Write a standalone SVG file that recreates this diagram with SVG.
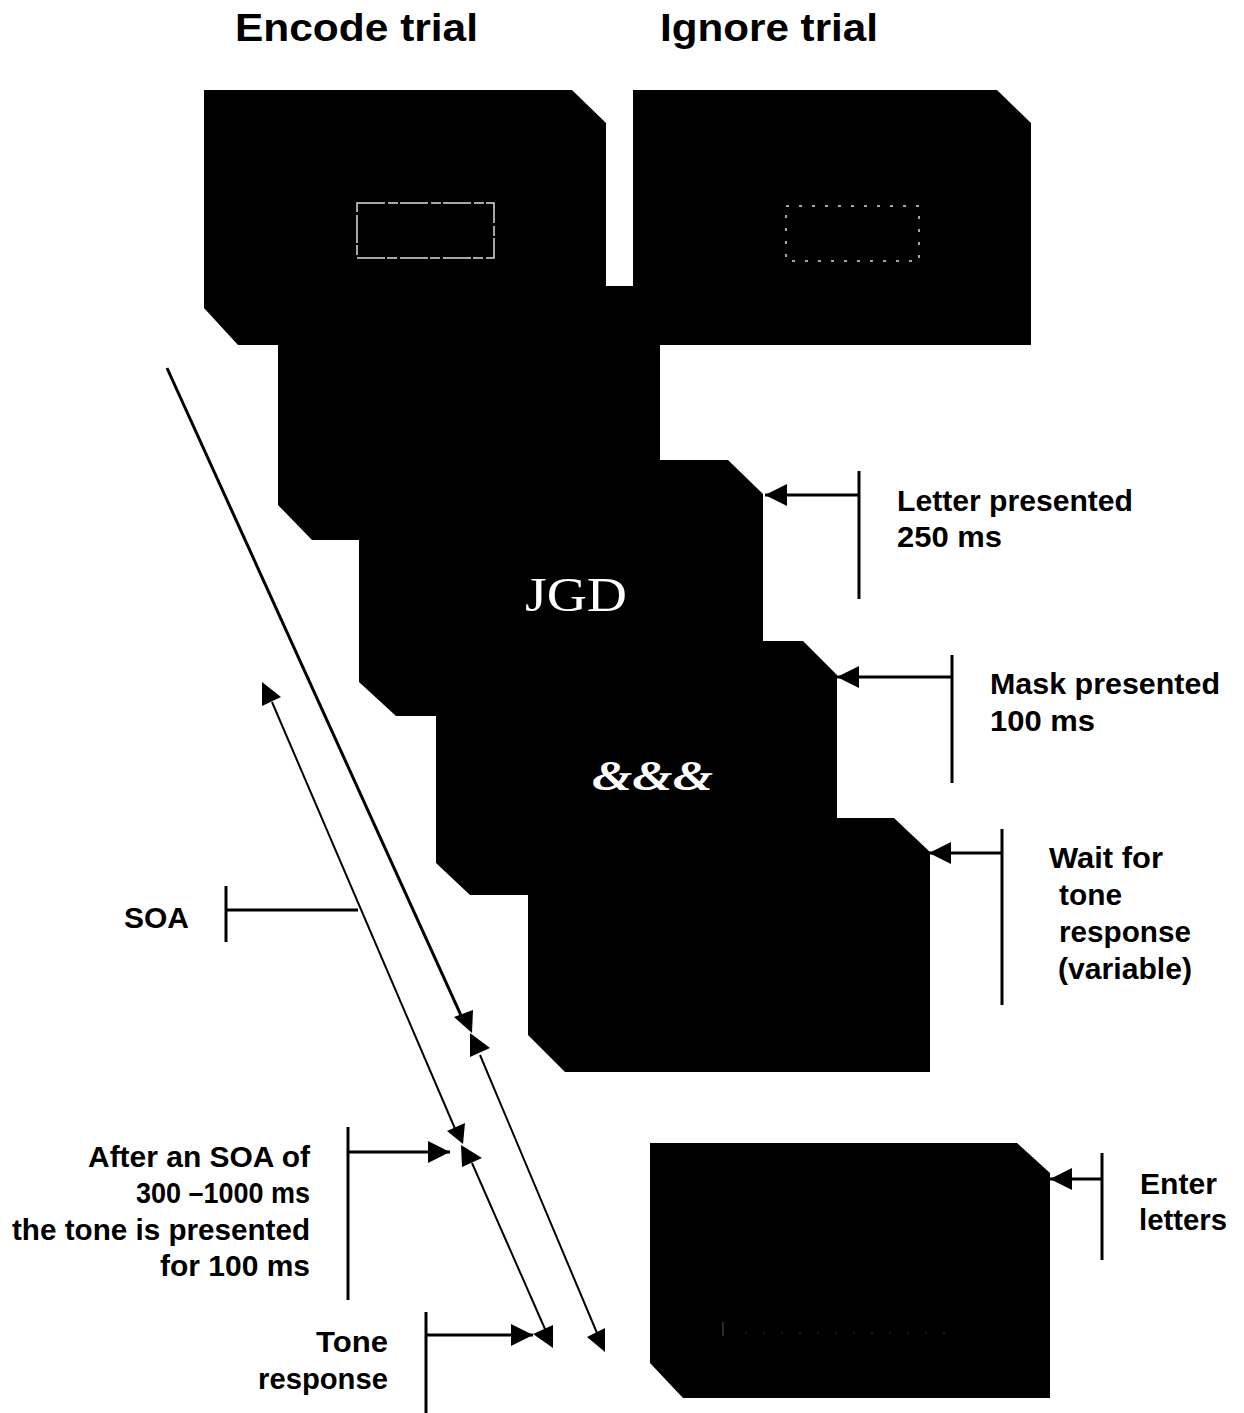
<svg xmlns="http://www.w3.org/2000/svg" width="1244" height="1413" viewBox="0 0 1244 1413">
<defs>
<style>
.box{fill:#000;stroke:none}
.lbl{font-family:"Liberation Sans",Arial,sans-serif;font-weight:bold;font-size:29px;fill:#000}
.title{font-family:"Liberation Sans",Arial,sans-serif;font-weight:bold;font-size:39px;fill:#000}
.br{stroke:#000;stroke-width:3;fill:none}
.ln{stroke:#000;fill:none}
.ah{fill:#000;stroke:none}
</style>
<marker id="arr" viewBox="0 0 22 22" refX="22" refY="11" markerWidth="22" markerHeight="22" markerUnits="userSpaceOnUse" orient="auto">
<path d="M0,0 L22,11 L0,22 Z" fill="#000"/>
</marker>
</defs>
<rect width="1244" height="1413" fill="#fff"/>

<text class="title" x="235" y="41" textLength="243" lengthAdjust="spacingAndGlyphs">Encode trial</text>
<text class="title" x="660" y="41" textLength="218" lengthAdjust="spacingAndGlyphs">Ignore trial</text>

<g id="screen-fixation">
<polygon class="box" points="278,286 660,286 660,540 312,540 278,505"/>
</g>
<g id="screen-letters">
<polygon class="box" points="359,460 728,460 763,494 763,716 396,716 359,682"/>
<text x="525" y="611" font-family="'Liberation Serif','Times New Roman',serif" font-size="48" fill="#fff" textLength="102" lengthAdjust="spacingAndGlyphs">JGD</text>
</g>
<g id="screen-mask">
<polygon class="box" points="436,641 803,641 837,675 837,895 470,895 436,863"/>
<text x="592" y="790" font-family="'Liberation Serif','Times New Roman',serif" font-size="42" font-weight="bold" font-style="italic" fill="#fff" textLength="121" lengthAdjust="spacingAndGlyphs">&amp;&amp;&amp;</text>
</g>
<g id="screen-wait">
<polygon class="box" points="528,818 894,818 930,852 930,1072 565,1072 528,1035"/>
</g>
<g id="encode-cue">
<polygon class="box" points="204,90 572,90 606,123 606,345 238,345 204,308"/>
<rect x="357" y="203" width="137" height="55" fill="none" stroke="#ddd" stroke-width="1.5" stroke-dasharray="28 3 10 2"/>
</g>
<g id="ignore-cue">
<polygon class="box" points="633,90 997,90 1031,123 1031,345 633,345"/>
<rect x="786" y="206" width="133" height="55" fill="none" stroke="#ddd" stroke-width="1.5" stroke-dasharray="3 10"/>
</g>
<g id="screen-enter">
<polygon class="box" points="650,1143 1017,1143 1050,1173 1050,1398 683,1398 650,1363"/>
<line x1="723" y1="1322" x2="723" y2="1336" stroke="#555" stroke-width="1"/>
<line x1="745" y1="1333" x2="945" y2="1333" stroke="#333" stroke-width="1" stroke-dasharray="2 16"/>
</g>

<g id="labels">
<text class="lbl" x="897" y="511" textLength="236" lengthAdjust="spacingAndGlyphs">Letter presented</text>
<text class="lbl" x="897" y="547" textLength="105" lengthAdjust="spacingAndGlyphs">250 ms</text>
<text class="lbl" x="990" y="694" textLength="230" lengthAdjust="spacingAndGlyphs">Mask presented</text>
<text class="lbl" x="990" y="731" textLength="105" lengthAdjust="spacingAndGlyphs">100 ms</text>
<text class="lbl" x="1049" y="868" textLength="114" lengthAdjust="spacingAndGlyphs">Wait for</text>
<text class="lbl" x="1059" y="905" textLength="63" lengthAdjust="spacingAndGlyphs">tone</text>
<text class="lbl" x="1059" y="942" textLength="132" lengthAdjust="spacingAndGlyphs">response</text>
<text class="lbl" x="1058" y="979" textLength="134" lengthAdjust="spacingAndGlyphs">(variable)</text>
<text class="lbl" x="1140" y="1194" textLength="77" lengthAdjust="spacingAndGlyphs">Enter</text>
<text class="lbl" x="1139" y="1230" textLength="88" lengthAdjust="spacingAndGlyphs">letters</text>
<text class="lbl" x="124" y="928" textLength="65" lengthAdjust="spacingAndGlyphs">SOA</text>
<text class="lbl" x="310" y="1167" text-anchor="end" textLength="222" lengthAdjust="spacingAndGlyphs">After an SOA of</text>
<text class="lbl" x="310" y="1203" text-anchor="end" textLength="174" lengthAdjust="spacingAndGlyphs">300 –1000 ms</text>
<text class="lbl" x="310" y="1240" text-anchor="end" textLength="298" lengthAdjust="spacingAndGlyphs">the tone is presented</text>
<text class="lbl" x="310" y="1276" text-anchor="end" textLength="150" lengthAdjust="spacingAndGlyphs">for 100 ms</text>
<text class="lbl" x="388" y="1352" text-anchor="end" textLength="72" lengthAdjust="spacingAndGlyphs">Tone</text>
<text class="lbl" x="388" y="1389" text-anchor="end" textLength="130" lengthAdjust="spacingAndGlyphs">response</text>
</g>

<g id="connectors">
<line class="br" x1="859" y1="471" x2="859" y2="599"/>
<line class="br" x1="859" y1="495" x2="765" y2="495" marker-end="url(#arr)"/>
<line class="br" x1="952" y1="655" x2="952" y2="783"/>
<line class="br" x1="952" y1="677" x2="837" y2="677" marker-end="url(#arr)"/>
<line class="br" x1="1002" y1="829" x2="1002" y2="1005"/>
<line class="br" x1="1002" y1="853" x2="929" y2="853" marker-end="url(#arr)"/>
<line class="br" x1="1102" y1="1153" x2="1102" y2="1260"/>
<line class="br" x1="1102" y1="1179" x2="1050" y2="1179" marker-end="url(#arr)"/>
<line class="br" x1="226" y1="886" x2="226" y2="942"/>
<line class="br" x1="226" y1="910" x2="358" y2="910"/>
<line class="br" x1="348" y1="1127" x2="348" y2="1300"/>
<line class="br" x1="348" y1="1152" x2="450" y2="1152" marker-end="url(#arr)"/>
<line class="br" x1="426" y1="1312" x2="426" y2="1413"/>
<line class="br" x1="426" y1="1335" x2="533" y2="1335" marker-end="url(#arr)"/>

<line class="ln" stroke-width="3" x1="167" y1="368" x2="464" y2="1022"/>
<line class="ln" stroke-width="2" x1="272" y1="702" x2="456" y2="1131"/>
<line class="ln" stroke-width="2" x1="480" y1="1055" x2="597" y2="1333"/>
<line class="ln" stroke-width="2" x1="472" y1="1163" x2="545" y2="1329"/>

<polygon class="ah" points="262,682 281,697 262,706"/>
<polygon class="ah" points="454,1017 473,1010 472,1033"/>
<polygon class="ah" points="470,1033 490,1048 470,1057"/>
<polygon class="ah" points="447,1131 465,1123 463,1144"/>
<polygon class="ah" points="461,1145 482,1158 462,1167"/>
<polygon class="ah" points="533,1334 553,1325 553,1348"/>
<polygon class="ah" points="587,1337 605,1328 605,1352"/>
</g>
</svg>
